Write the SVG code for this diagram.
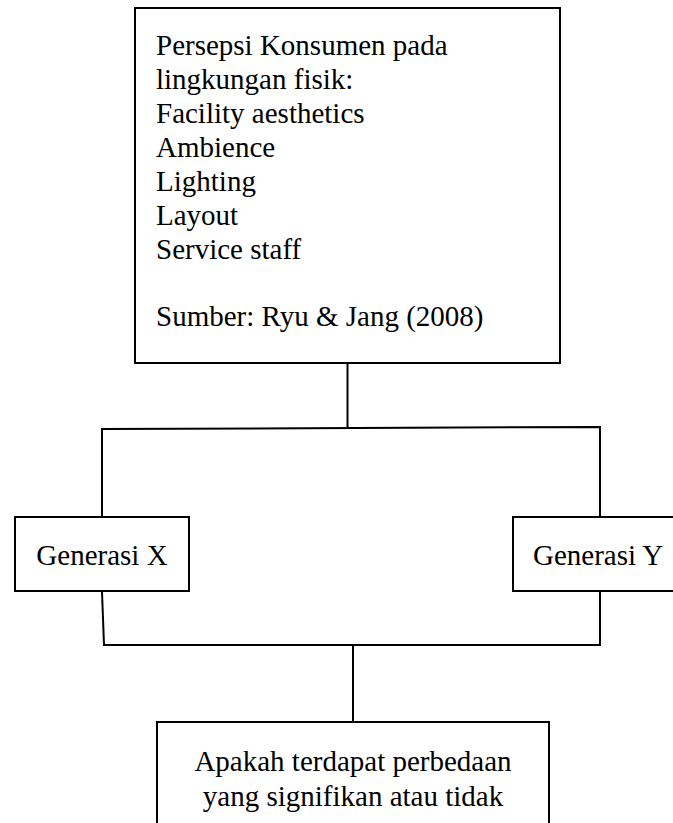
<svg xmlns="http://www.w3.org/2000/svg" width="673" height="823" viewBox="0 0 673 823">
<style>
.box{fill:#fff;stroke:#000;stroke-width:2}
.ln{fill:none;stroke:#000;stroke-width:2;stroke-linecap:square}
.t{font-family:"Liberation Serif","Times New Roman",serif;font-size:29px;fill:#000}
.c{text-anchor:middle}
</style>
<rect width="673" height="823" fill="#fff"/>
<g id="connectors">
<path class="ln" d="M347.5 363 V428"/>
<path class="ln" d="M102 517 V429 L600 427 V517"/>
<path class="ln" d="M102 592 L104 645 H600 V592"/>
<path class="ln" d="M353 645 V722"/>
</g>
<g id="persepsi">
<rect class="box" x="135" y="8" width="425" height="355"/>
<text class="t" x="156"><tspan x="156" y="55">Persepsi Konsumen pada</tspan><tspan x="156" y="89">lingkungan fisik:</tspan><tspan x="156" y="123">Facility aesthetics</tspan><tspan x="156" y="157">Ambience</tspan><tspan x="156" y="191">Lighting</tspan><tspan x="156" y="224.5">Layout</tspan><tspan x="156" y="258.5">Service staff</tspan><tspan x="156" y="326">Sumber: Ryu &amp; Jang (2008)</tspan></text>
</g>
<g id="genx">
<rect class="box" x="15" y="517" width="174" height="74"/>
<text class="t c" x="102" y="565">Generasi X</text>
</g>
<g id="geny">
<rect class="box" x="513" y="517" width="172" height="74"/>
<text class="t" x="533" y="565">Generasi Y</text>
</g>
<g id="hasil">
<rect class="box" x="157" y="722" width="392" height="120"/>
<text class="t c" x="353" y="771">Apakah terdapat perbedaan</text>
<text class="t c" x="353" y="806">yang signifikan atau tidak</text>
</g>
</svg>
